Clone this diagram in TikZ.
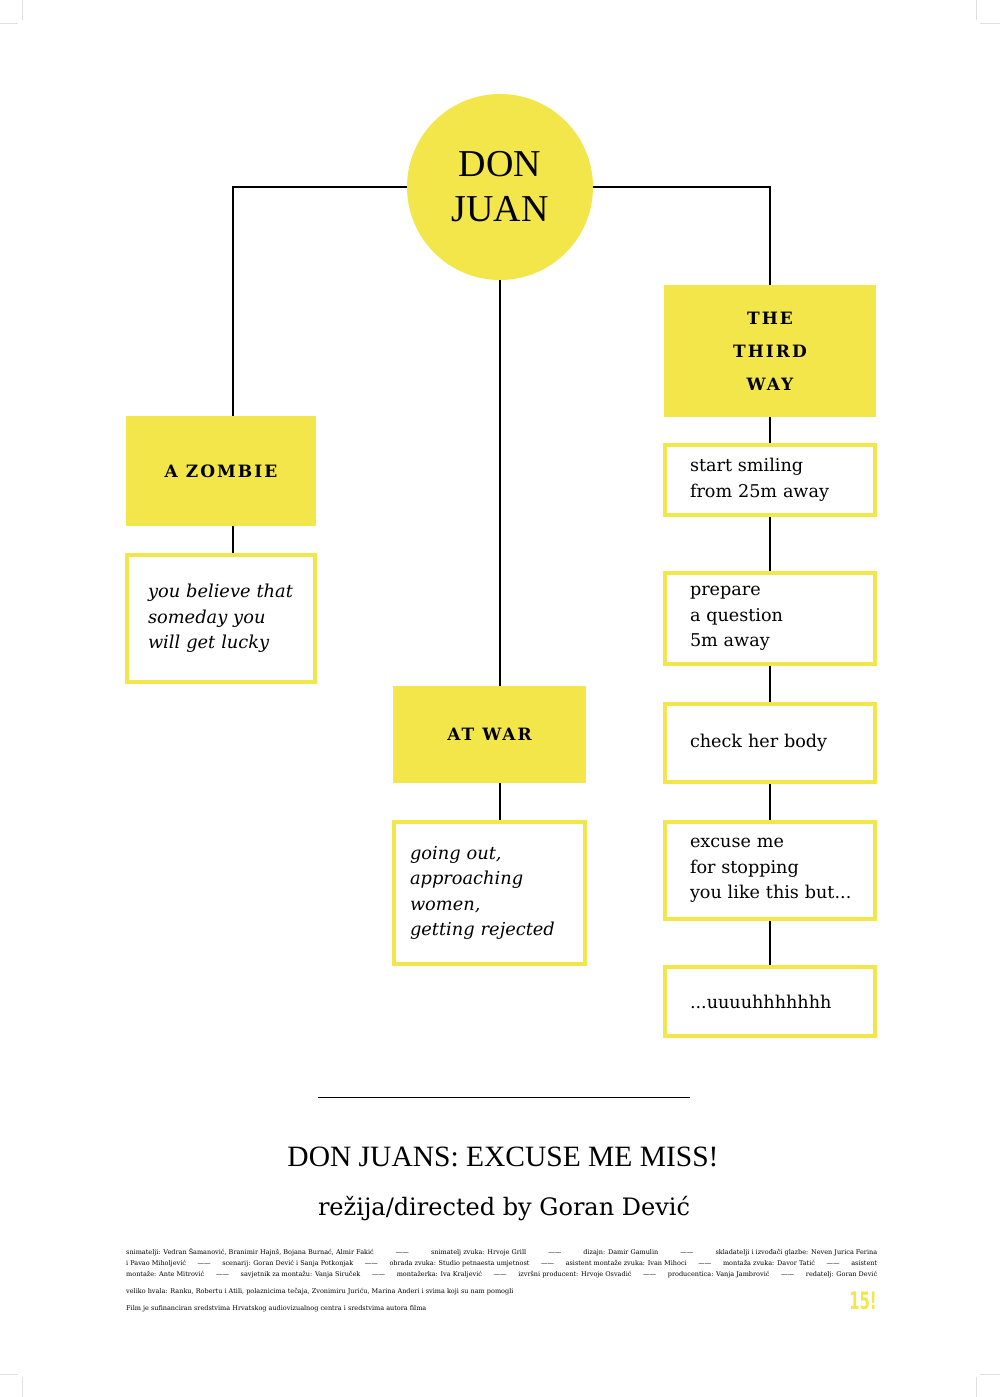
\documentclass[tikz,border=0pt]{standalone}
\usepackage{fontspec}
\setmainfont{DejaVu Serif}
\newfontfamily\titlefont{Liberation Serif}
\newfontfamily\headfont[LetterSpace=12]{DejaVu Serif}
\newfontfamily\logofont{DejaVu Sans}
\definecolor{djyellow}{HTML}{F3E64B}
\begin{document}
\begin{tikzpicture}
[x=1pt,y=-1pt,
dj/.style={circle,fill=djyellow,minimum size=186pt,inner sep=0pt,align=center,font=\titlefont\fontsize{38}{45}\selectfont},
head/.style={rectangle,fill=djyellow,inner sep=0pt,align=center,font=\headfont\bfseries\fontsize{17}{33}\selectfont},
card/.style={rectangle,draw=djyellow,line width=4pt,minimum width=210pt,inner xsep=25pt,inner ysep=0pt,text width=160pt,align=left,font=\fontsize{17.6}{25.5}\selectfont},
cardit/.style={card,font=\itshape\fontsize{17.8}{25.5}\selectfont},
small/.style={inner sep=0pt,font=\fontsize{6.5}{11}\selectfont},
link/.style={line width=1.1pt}]
\useasboundingbox (0,0) rectangle (1000,1397);
%crop marks
\foreach \cx/\cy/\dx/\dy in {22/0/1/1,976/0/-1/1,22/1397/1/-1,976/1397/-1/-1}
{
	\draw[gray!25,line width=0.8pt] (\cx,\cy) -- ++(0,20*\dy);
	\draw[gray!25,line width=0.8pt] (\cx-4*\dx,\cy+23*\dy) -- ++(-20*\dx,0);
}
%root
\node[dj] (don) at (500,187) {DON\\JUAN};
%a zombie
\node[head,minimum width=190pt,minimum height=110pt] (zombie) at (221,471) {A ZOMBIE};
\node[cardit,minimum width=188pt,minimum height=127pt,inner xsep=21pt,text width=146pt] (lucky) at (221,618.5) {you~believe~that\\someday~you\\will~get~lucky};
%at war
\node[head,minimum width=193pt,minimum height=97pt] (war) at (489.5,734.5) {AT WAR};
\node[cardit,minimum width=191pt,minimum height=142pt,inner xsep=16pt,text width=159pt] (rejected) at (489.5,893) {going~out,\\approaching\\women,\\getting~rejected};
%the third way
\node[head,minimum width=212pt,minimum height=132pt] (third) at (770,351) {THE\\THIRD\\WAY};
\node[card,minimum height=70pt] (smile) at (770,480) {start~smiling\\from~25m~away};
\node[card,minimum height=91pt] (question) at (770,618.5) {prepare\\a~question\\5m~away};
\node[card,minimum height=78pt] (body) at (770,743) {check~her~body};
\node[card,minimum height=97pt] (excuse) at (770,870.5) {excuse~me\\for~stopping\\you~like~this~but...};
\node[card,minimum height=69pt] (uh) at (770,1001.5) {...uuuuhhhhhhh};
%tree
\draw[link] (don.west) -| ([xshift=12pt]zombie.north);
\draw[link] (don.east) -| (third.north);
\draw[link] (don.south) -- (don.south |- war.north);
\draw[link] ([xshift=12pt]zombie.south) -- ([xshift=12pt]zombie.south |- lucky.north);
\draw[link] (don.south |- war.south) -- (don.south |- rejected.north);
\foreach \a/\b in {third/smile,smile/question,question/body,body/excuse,excuse/uh}
	\draw[link] (\a.south) -- (\b.north);
%credits
\draw[line width=1pt] (318,1097) -- (690,1097);
\node[anchor=base,font=\titlefont\fontsize{29.5}{30}\selectfont] (title) at (503,1166) {DON JUANS: EXCUSE ME MISS!};
\node[anchor=base,font=\fontsize{24}{26}\selectfont] (director) at (504,1215) {režija/directed by Goran Dević};
\node[small,anchor=north west,text width=751pt,align=justify] (crew) at (126,1248)
{\parfillskip=0pt
snimatelji: Vedran Šamanović, Branimir Hajnš, Bojana Burnać, Almir Fakić\hfill——\hfill snimatelj zvuka: Hrvoje Grill\hfill——\hfill dizajn: Damir Gamulin\hfill——\hfill skladatelji i izvođači glazbe: Neven Jurica Ferina\linebreak
i Pavao Miholjević\hfill——\hfill scenarij: Goran Dević i Sanja Potkonjak\hfill——\hfill obrada zvuka: Studio petnaesta umjetnost\hfill——\hfill asistent montaže zvuka: Ivan Mihoci\hfill——\hfill montaža zvuka: Davor Tatić\hfill——\hfill asistent\linebreak
montaže: Ante Mitrović\hfill——\hfill savjetnik za montažu: Vanja Siruček\hfill——\hfill montažerka: Iva Kraljević\hfill——\hfill izvršni producent: Hrvoje Osvadić\hfill——\hfill producentica: Vanja Jambrović\hfill——\hfill redatelj: Goran Dević};
\node[small,anchor=base west] (thanks) at (126,1293) {veliko hvala: Ranku, Robertu i Atili, polaznicima tečaja, Zvonimiru Juriću, Marina Anderi i svima koji su nam pomogli};
\node[small,anchor=base west] (funding) at (126,1310) {Film je sufinanciran sredstvima Hrvatskog audiovizualnog centra i sredstvima autora filma};
\node[inner sep=0pt,text=djyellow,font=\logofont\bfseries\fontsize{24}{24}\selectfont] (logo) at (863,1301) {\scalebox{0.62}[1]{15!}};
\end{tikzpicture}
\end{document}
